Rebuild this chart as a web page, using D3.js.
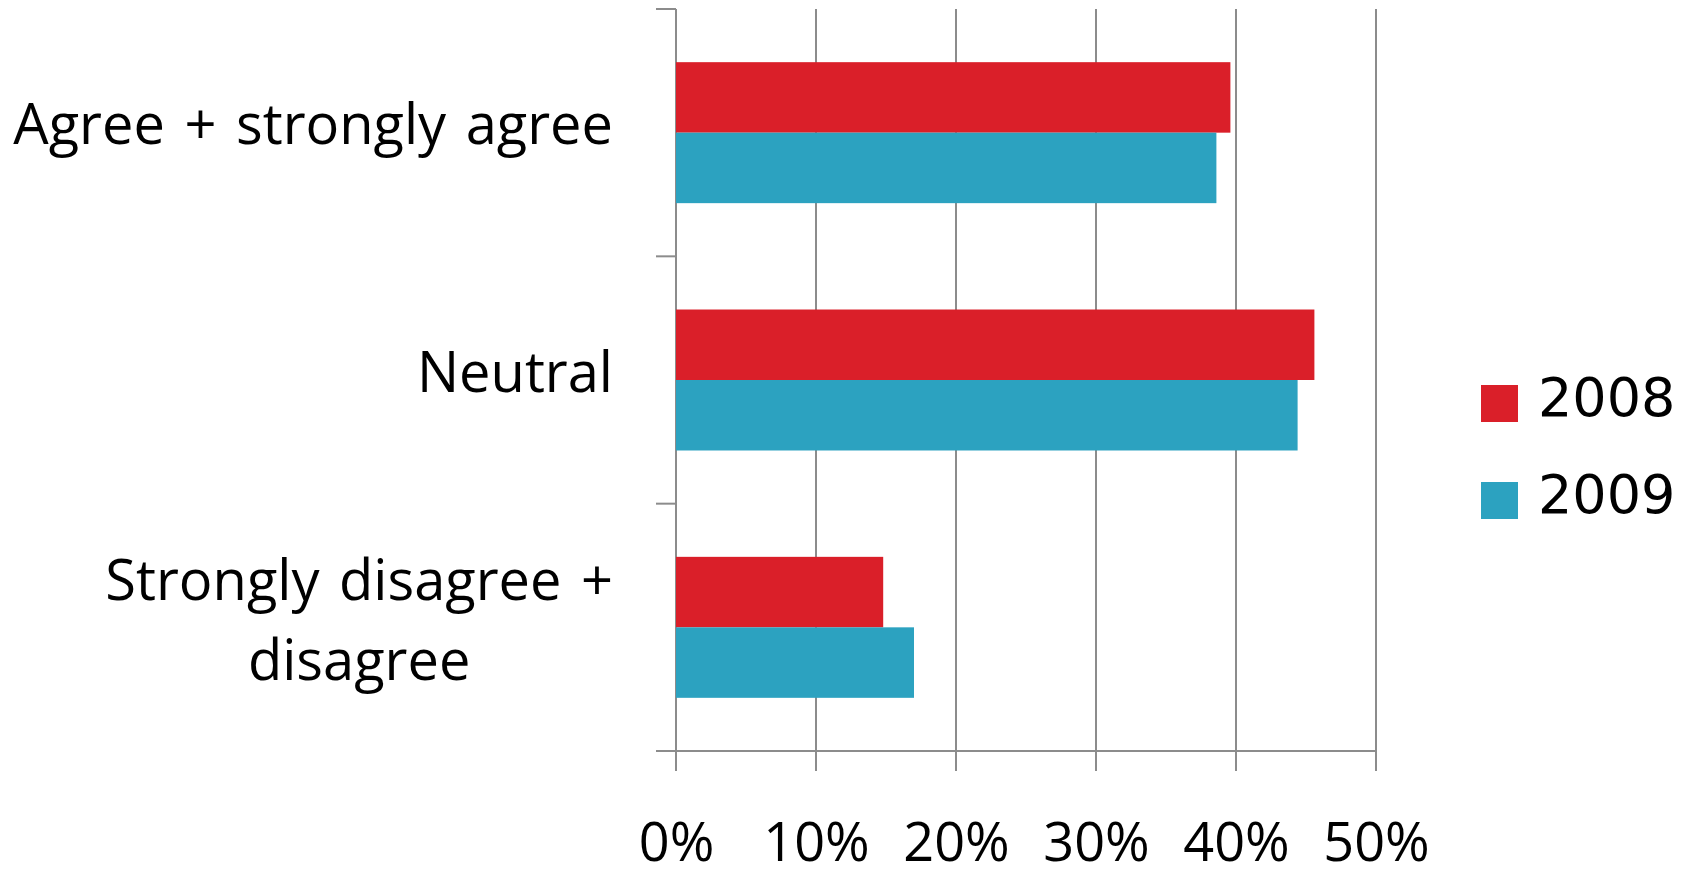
<!DOCTYPE html>
<html>
<head>
<meta charset="utf-8">
<script src="https://cdn.jsdelivr.net/npm/d3@7"></script>
<style>
  html, body { margin: 0; padding: 0; background: #fff; }
  svg { display: block; }
</style>
</head>
<body>
<svg id="chart" width="1687" height="877"></svg>
<script>
// Survey answers, share of respondents per year
const categories = ["Agree + strongly agree", "Neutral", "Strongly disagree + disagree"];
const categoryLines = [["Agree + strongly agree"], ["Neutral"], ["Strongly disagree +", "disagree"]];
const seriesNames = ["2008", "2009"];
const values2008 = [0.396, 0.456, 0.148];
const values2009 = [0.386, 0.444, 0.170];
const xTicks = [0, 0.1, 0.2, 0.3, 0.4, 0.5];
const xTickLabels = ["0%", "10%", "20%", "30%", "40%", "50%"];
const colors = ["#da1f29", "#2ca2c0"];

const svg = d3.select("#chart");

const plot = { left: 676, right: 1376, top: 9, bottom: 751 };
const tickLen = 20;
const gridColor = "#8c8c8c";
const labelFont = "'Open Sans', 'Noto Sans', sans-serif";

const x = d3.scaleLinear().domain([0, 0.5]).range([plot.left, plot.right]);

const y0 = d3.scaleBand()
  .domain(categories)
  .range([plot.top, plot.bottom])
  .paddingInner(0.43)
  .paddingOuter(0.215);

const y1 = d3.scaleBand()
  .domain(seriesNames)
  .range([0, y0.bandwidth()]);

const rows = categories.map((c, i) => ({
  category: c,
  lines: categoryLines[i],
  values: [values2008[i], values2009[i]]
}));

// vertical gridlines, each running down past the baseline as a tick
svg.append("g").selectAll("line")
  .data(xTicks)
  .join("line")
  .attr("x1", d => x(d)).attr("x2", d => x(d))
  .attr("y1", plot.top).attr("y2", plot.bottom + tickLen)
  .attr("stroke", gridColor).attr("stroke-width", 2);

// category boundary ticks on the left axis
const step = y0.step();
const boundaries = d3.range(categories.length + 1).map(i => plot.top + i * step);
svg.append("g").selectAll("line")
  .data(boundaries)
  .join("line")
  .attr("x1", plot.left - tickLen).attr("x2", plot.left)
  .attr("y1", d => d).attr("y2", d => d)
  .attr("stroke", gridColor).attr("stroke-width", 2);

// baseline
svg.append("line")
  .attr("x1", plot.left - tickLen).attr("x2", plot.right)
  .attr("y1", plot.bottom).attr("y2", plot.bottom)
  .attr("stroke", gridColor).attr("stroke-width", 2);

// bars
const groups = svg.append("g").selectAll("g")
  .data(rows)
  .join("g")
  .attr("transform", d => `translate(0,${y0(d.category)})`);

groups.selectAll("rect")
  .data(d => d.values.map((v, j) => ({ series: seriesNames[j], value: v, color: colors[j] })))
  .join("rect")
  .attr("x", x(0))
  .attr("y", d => y1(d.series))
  .attr("width", d => x(d.value) - x(0))
  .attr("height", y1.bandwidth())
  .attr("fill", d => d.color);

// x axis labels
const xAxis = d3.axisBottom(x)
  .tickValues(xTicks)
  .tickFormat((d, i) => xTickLabels[i])
  .tickSize(0)
  .tickPadding(0);

const xg = svg.append("g")
  .attr("transform", `translate(0,${plot.bottom})`)
  .call(xAxis);
xg.select(".domain").remove();
xg.selectAll("text")
  .attr("y", 110)
  .attr("dy", 0)
  .attr("fill", "#000")
  .style("font-family", labelFont)
  .style("font-size", "54px");

// category labels, right-aligned block, extra lines centred under the first
const labelRight = 613;
const lineHeight = 80;
const catG = svg.append("g")
  .style("font-family", labelFont)
  .style("font-size", "56px")
  .style("word-spacing", "5px")
  .attr("fill", "#000");

rows.forEach(r => {
  const center = y0(r.category) + y0.bandwidth() / 2;
  const firstBase = r.lines.length > 1 ? center - 27.5 : center + 11.5;
  const first = catG.append("text")
    .attr("x", labelRight)
    .attr("y", firstBase)
    .attr("text-anchor", "end")
    .text(r.lines[0]);
  const w = first.node().getComputedTextLength();
  r.lines.slice(1).forEach((ln, k) => {
    catG.append("text")
      .attr("x", labelRight - w / 2)
      .attr("y", firstBase + (k + 1) * lineHeight)
      .attr("text-anchor", "middle")
      .text(ln);
  });
});

// legend
const legend = svg.append("g").attr("transform", "translate(1481,385)");
const legendItems = legend.selectAll("g")
  .data(seriesNames)
  .join("g")
  .attr("transform", (d, i) => `translate(0,${i * 97})`);
legendItems.append("rect")
  .attr("width", 37).attr("height", 37)
  .attr("fill", (d, i) => colors[i]);
legendItems.append("text")
  .attr("x", 57).attr("y", 31)
  .style("font-family", "'DejaVu Sans', sans-serif")
  .style("font-size", "54px")
  .attr("fill", "#000")
  .text(d => d);
</script>
</body>
</html>
